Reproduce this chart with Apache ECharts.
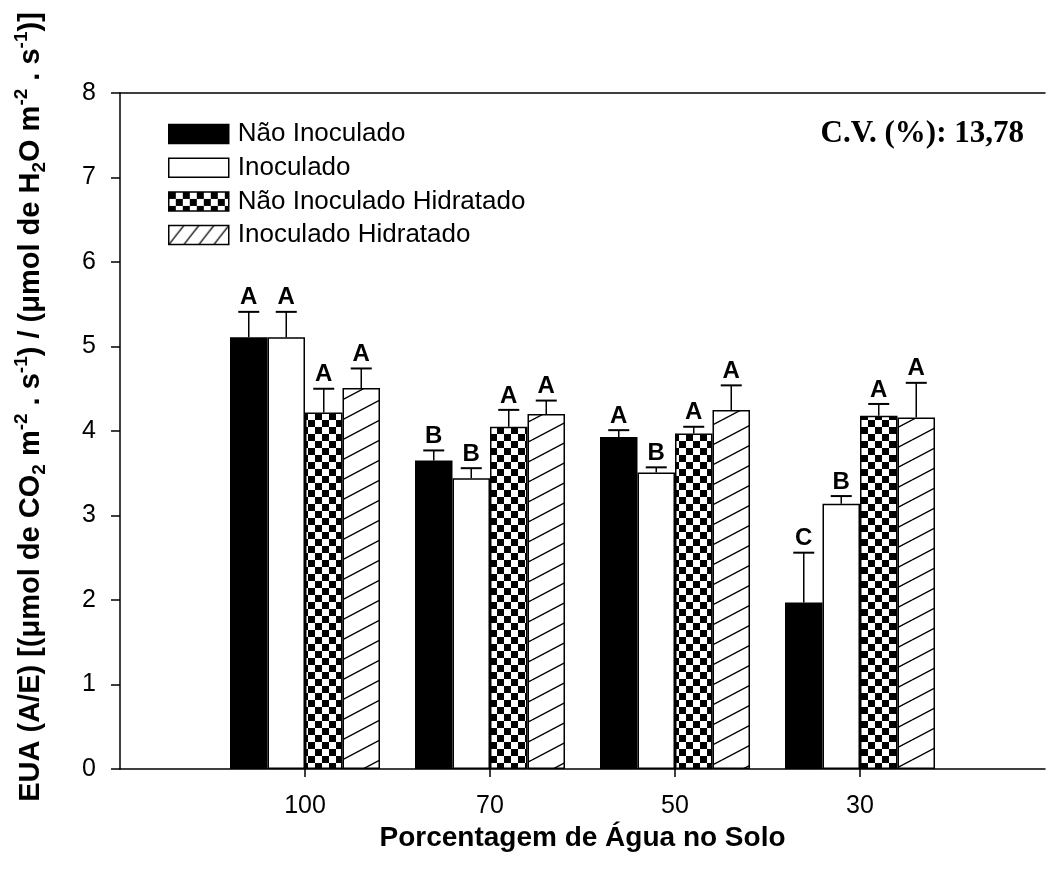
<!DOCTYPE html>
<html>
<head>
<meta charset="utf-8">
<script src="https://cdn.jsdelivr.net/npm/echarts@6/dist/echarts.min.js"></script>
<style>
html,body{margin:0;padding:0;background:#fff;}
#chart{width:1049px;height:879px;}
</style>
</head>
<body>
<div id="chart"></div>
<script>
// ---- data ----
const categories = ['', '100', '70', '50', '30', ''];
const seriesNames = ['Não Inoculado', 'Inoculado', 'Não Inoculado Hidratado', 'Inoculado Hidratado'];
const naoInoculado = [5.11, 3.65, 3.93, 1.97];
const inoculado = [5.11, 3.44, 3.51, 3.14];
const naoInoculadoHidratado = [4.22, 4.05, 3.97, 4.18];
const inoculadoHidratado = [4.51, 4.20, 4.25, 4.16];
const errNaoInoculado = [0.30, 0.12, 0.08, 0.59];
const errInoculado = [0.30, 0.12, 0.06, 0.09];
const errNaoInoculadoHidratado = [0.28, 0.20, 0.08, 0.14];
const errInoculadoHidratado = [0.23, 0.16, 0.29, 0.41];
const lettersNaoInoculado = ['A', 'B', 'A', 'C'];
const lettersInoculado = ['A', 'B', 'B', 'B'];
const lettersNaoInoculadoHidratado = ['A', 'A', 'A', 'A'];
const lettersInoculadoHidratado = ['A', 'A', 'A', 'A'];
const yTicks = [0, 1, 2, 3, 4, 5, 6, 7, 8];
const cvText = 'C.V. (%): 13,78';

const values = [naoInoculado, inoculado, naoInoculadoHidratado, inoculadoHidratado];
const errors = [errNaoInoculado, errInoculado, errNaoInoculadoHidratado, errInoculadoHidratado];
const letters = [lettersNaoInoculado, lettersInoculado, lettersNaoInoculadoHidratado, lettersInoculadoHidratado];

// ---- patterns ----
function checkerPattern() {
  const s = 7;
  const c = document.createElement('canvas');
  c.width = 2 * s; c.height = 2 * s;
  const g = c.getContext('2d');
  g.fillStyle = '#fff'; g.fillRect(0, 0, 2 * s, 2 * s);
  g.fillStyle = '#000';
  g.fillRect(0, 0, s, s);
  g.fillRect(s, s, s, s);
  return c;
}
function hatchPattern(w, h, lw) {
  const c = document.createElement('canvas');
  c.width = w; c.height = h;
  const g = c.getContext('2d');
  g.fillStyle = '#fff'; g.fillRect(0, 0, w, h);
  g.strokeStyle = '#000'; g.lineWidth = lw;
  [[0, 0], [-w, 0], [w, 0], [0, -h], [0, h], [-w, h], [w, -h]].forEach(([dx, dy]) => {
    g.beginPath(); g.moveTo(dx, h + dy); g.lineTo(w + dx, dy); g.stroke();
  });
  return c;
}
const fills = [
  '#000',
  '#fff',
  { image: checkerPattern(), repeat: 'repeat' },
  { image: hatchPattern(38, 20, 1.4), repeat: 'repeat' }
];
const legendFills = [
  '#000',
  '#fff',
  { image: checkerPattern(), repeat: 'repeat' },
  { image: hatchPattern(15, 19, 1.3), repeat: 'repeat' }
];

const FONT = 'Liberation Sans';
const BAR_W = 37.5;

const chart = echarts.init(document.getElementById('chart'), null, { renderer: 'canvas' });

const series = [];
values.forEach((vals, si) => {
  series.push({
    name: seriesNames[si],
    type: 'bar',
    barWidth: BAR_W,
    barGap: '0%',
    data: vals.map((v, i) => [i + 1, v]),
    itemStyle: { color: fills[si], borderColor: '#000', borderWidth: 1.5 },
    emphasis: { disabled: true },
    animation: false
  });
});
values.forEach((vals, si) => {
  const offset = (si - 1.5) * BAR_W;
  series.push({
    name: 'err' + si,
    type: 'custom',
    data: vals.map((v, i) => [i + 1, v, v + errors[si][i]]),
    animation: false,
    z: 5,
    renderItem: function (params, api) {
      const cat = api.value(0);
      const base = api.coord([cat, api.value(1)]);
      const top = api.coord([cat, api.value(2)]);
      const x = base[0] + offset;
      return {
        type: 'group',
        children: [
          { type: 'line', shape: { x1: x, y1: base[1], x2: x, y2: top[1] }, style: { stroke: '#000', lineWidth: 1.5 } },
          { type: 'line', shape: { x1: x - 10.5, y1: top[1], x2: x + 10.5, y2: top[1] }, style: { stroke: '#000', lineWidth: 2 } },
          { type: 'text', x: x, y: top[1] - 2, style: { text: letters[si][params.dataIndex], font: 'bold 24px "' + FONT + '"', align: 'center', verticalAlign: 'bottom', fill: '#000' } }
        ]
      };
    }
  });
});

const yTitle = '{b|EUA (A/E) [(μmol de CO}{sub|2}{b| m}{sup|-2}{b| . s}{sup|-1}{b|) / (μmol de H}{sub|2}{b|O m}{sup|-2}{b| . s}{sup|-1}{b|)]}';

const option = {
  backgroundColor: '#fff',
  animation: false,
  grid: { left: 120, right: 4, top: 93, bottom: 110, containLabel: false },
  legend: {
    data: seriesNames.map((n, i) => ({ name: n, itemStyle: { color: legendFills[i], borderColor: '#000', borderWidth: 1.5 } })),
    orient: 'vertical',
    left: 163,
    top: 116,
    itemWidth: 60,
    itemHeight: 19,
    itemGap: 7.7,
    icon: 'rect',
    selectedMode: false,
    textStyle: { fontFamily: FONT, fontSize: 26, color: '#000', lineHeight: 19, padding: [0, 0, 0, 4] }
  },
  xAxis: [{
    type: 'category',
    data: categories,
    boundaryGap: false,
    position: 'bottom',
    axisLine: { lineStyle: { color: '#000', width: 1.5 } },
    axisTick: { show: true, length: 8, inside: false, lineStyle: { color: '#000', width: 1.5 }, interval: function (idx) { return idx > 0 && idx < categories.length - 1; } },
    axisLabel: { fontFamily: FONT, fontSize: 25, color: '#000', margin: 25, interval: 0 },
    splitLine: { show: false },
    name: 'Porcentagem de Água no Solo',
    nameLocation: 'middle',
    nameGap: 48,
    nameTextStyle: { fontFamily: FONT, fontSize: 28, fontWeight: 'bold', color: '#000' }
  }, {
    type: 'category',
    data: categories,
    boundaryGap: false,
    position: 'top',
    axisLine: { lineStyle: { color: '#000', width: 1.5 } },
    axisTick: { show: false },
    axisLabel: { show: false },
    splitLine: { show: false }
  }],
  yAxis: {
    type: 'value',
    min: yTicks[0],
    max: yTicks[yTicks.length - 1],
    interval: 1,
    axisLine: { show: true, lineStyle: { color: '#000', width: 1.5 } },
    axisTick: { show: true, length: 9, inside: false, lineStyle: { color: '#000', width: 1.5 } },
    axisLabel: { fontFamily: FONT, fontSize: 25, color: '#000', margin: 24 },
    splitLine: { show: false }
  },
  graphic: [
    {
      type: 'text',
      x: 31, y: 407,
      rotation: Math.PI / 2,
      style: {
        text: yTitle,
        align: 'center', verticalAlign: 'middle',
        textAlign: 'center', textVerticalAlign: 'middle',
        fill: '#000',
        rich: {
          b: { fontFamily: FONT, fontWeight: 'bold', fontSize: 29, lineHeight: 37, fill: '#000' },
          sub: { fontFamily: FONT, fontWeight: 'bold', fontSize: 19, lineHeight: 19, verticalAlign: 'bottom', fill: '#000' },
          sup: { fontFamily: FONT, fontWeight: 'bold', fontSize: 19, lineHeight: 19, verticalAlign: 'top', fill: '#000' }
        }
      }
    },
    {
      type: 'text',
      right: 25, top: 118,
      style: { text: cvText, font: 'bold 31px "Liberation Serif"', fill: '#000' }
    }
  ],
  series: series
};
chart.setOption(option);
</script>
</body>
</html>
